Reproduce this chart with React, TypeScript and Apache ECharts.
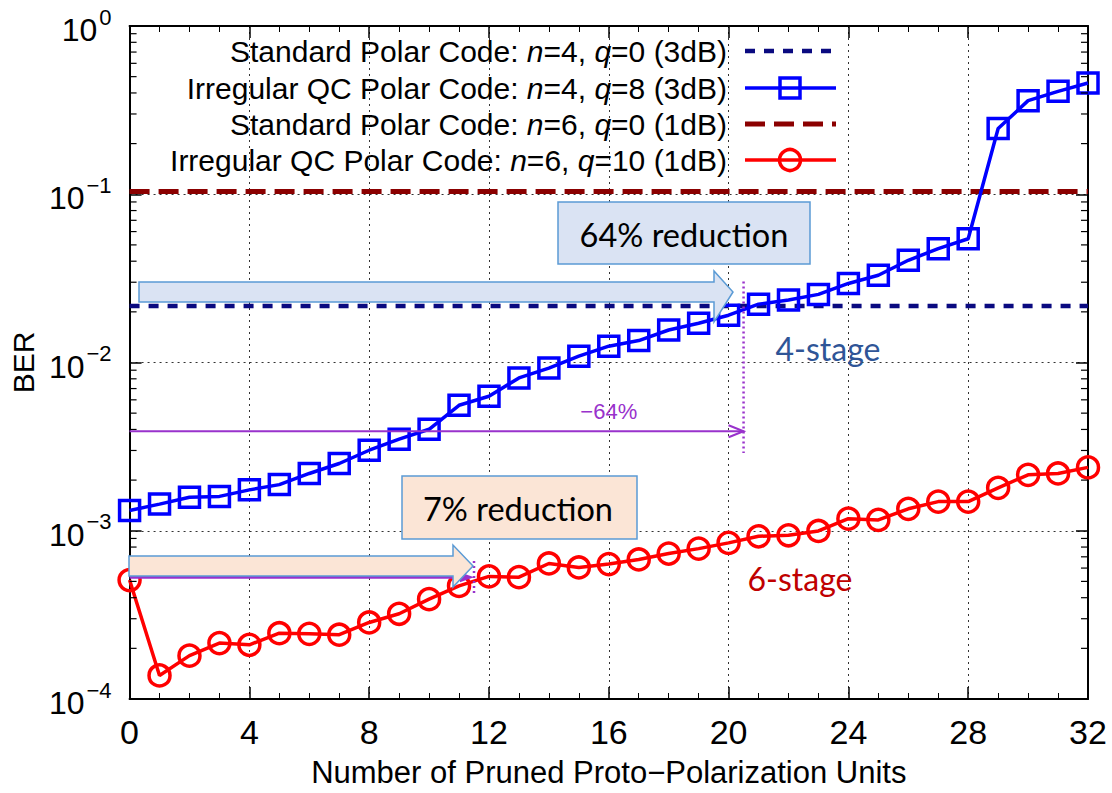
import React, { useEffect, useRef } from "react";
import * as echarts from "echarts";

// ---------------- data ----------------
const prunedUnits = [0, 1, 2, 3, 4, 5, 6, 7, 8, 9, 10, 11, 12, 13, 14, 15, 16, 17, 18, 19, 20, 21, 22, 23, 24, 25, 26, 27, 28, 29, 30, 31, 32];

const irregularN4Q8 = [
  1.32e-3, 1.44e-3, 1.58e-3, 1.6e-3, 1.75e-3, 1.88e-3, 2.19e-3, 2.51e-3, 3.01e-3, 3.5e-3, 4.01e-3,
  5.57e-3, 6.3e-3, 8.1e-3, 9.27e-3, 1.09e-2, 1.25e-2, 1.35e-2, 1.56e-2, 1.71e-2, 1.91e-2,
  2.22e-2, 2.35e-2, 2.54e-2, 2.95e-2, 3.3e-2, 4.05e-2, 4.75e-2, 5.44e-2, 0.246, 0.36, 0.409, 0.458,
];

const irregularN6Q10 = [
  5.09e-4, 1.38e-4, 1.81e-4, 2.15e-4, 2.1e-4, 2.46e-4, 2.44e-4, 2.41e-4, 2.85e-4, 3.21e-4, 3.92e-4,
  4.7e-4, 5.35e-4, 5.3e-4, 6.39e-4, 6.05e-4, 6.34e-4, 6.75e-4, 7.32e-4, 7.83e-4, 8.47e-4,
  9.27e-4, 9.4e-4, 9.97e-4, 1.18e-3, 1.16e-3, 1.35e-3, 1.49e-3, 1.49e-3, 1.8e-3, 2.15e-3, 2.19e-3, 2.38e-3,
];

const standardN4 = 0.0217; // n=4, q=0 (3dB)
const standardN6 = 0.104; // n=6, q=0 (1dB)
const xRange = [0, 32];

const seriesNames = [
  "Standard Polar Code: n=4, q=0 (3dB)",
  "Irregular QC Polar Code: n=4, q=8 (3dB)",
  "Standard Polar Code: n=6, q=0 (1dB)",
  "Irregular QC Polar Code: n=6, q=10 (1dB)",
];
const legendRich = [
  "Standard Polar Code: {i|n}=4, {i|q}=0 (3dB)",
  "Irregular QC Polar Code: {i|n}=4, {i|q}=8 (3dB)",
  "Standard Polar Code: {i|n}=6, {i|q}=0 (1dB)",
  "Irregular QC Polar Code: {i|n}=6, {i|q}=10 (1dB)",
];

// annotation anchors (data coordinates)
const arrow64 = [20.5, 0.0039];
const guide64 = [20.5, 0.0303, 0.0029];
const label64 = [16, 0.0051];
const arrow7 = [11.5, 0.00053];
const guide7 = [11.5, 0.00066, 0.00042];
const label7 = [9.3, 0.00064];

const minorMultipliers = [2, 3, 4, 5, 6, 7, 8, 9];
const decades = [1e-4, 1e-3, 1e-2, 1e-1];

// ---------------- styles ----------------
const SANS = "'Liberation Sans', Arial, Helvetica, sans-serif";
const CAL = "Lato, 'Open Sans', sans-serif";
const purple = "#9932cc";
const boxStroke = "#5b9bd5";
const legendY = [51, 88, 124, 160];

export default function App() {
  const ref = useRef<HTMLDivElement>(null);

  useEffect(() => {
    document.body.style.margin = "0";
    if (!ref.current) return;
    const chart = echarts.init(ref.current, null, { renderer: "svg" });

    const yMinor: number[][] = [];
    decades.forEach((d) => minorMultipliers.forEach((m) => yMinor.push([0, d * m])));

    const axisLineStyle = { color: "#000", width: 2 };

    const option: any = {
      animation: false,
      backgroundColor: "#fff",
      grid: { left: 125, right: 24, top: 26, bottom: 90, containLabel: false },
      xAxis: [
        {
          type: "value",
          min: xRange[0],
          max: xRange[1],
          interval: 4,
          position: "bottom",
          axisLine: { show: true, onZero: false, lineStyle: axisLineStyle },
          axisTick: { show: true, inside: true, length: 12, lineStyle: { color: "#000", width: 1.5 } },
          minorTick: { show: true, splitNumber: 4, length: 6, lineStyle: { color: "#000", width: 1 } },
          splitLine: { show: true, lineStyle: { type: [2, 4], color: "#333", width: 1 } },
          axisLabel: { fontSize: 34, color: "#000", margin: 16, fontFamily: SANS },
          name: "Number of Pruned Proto\u2212Polarization Units",
          nameLocation: "middle",
          nameGap: 58,
          nameTextStyle: { fontSize: 31, color: "#000", fontFamily: SANS },
        },
        {
          type: "value",
          min: xRange[0],
          max: xRange[1],
          interval: 4,
          position: "top",
          axisLine: { show: true, onZero: false, lineStyle: axisLineStyle },
          axisTick: { show: true, inside: true, length: 12, lineStyle: { color: "#000", width: 1.5 } },
          minorTick: { show: true, splitNumber: 4, length: 6, lineStyle: { color: "#000", width: 1 } },
          splitLine: { show: false },
          axisLabel: { show: false },
        },
      ],
      yAxis: [
        {
          type: "log",
          logBase: 10,
          min: 1e-4,
          max: 1,
          position: "left",
          axisLine: { show: true, onZero: false, lineStyle: axisLineStyle },
          axisTick: { show: true, inside: true, length: 12, lineStyle: { color: "#000", width: 1.5 } },
          splitLine: { show: true, lineStyle: { type: [2, 4], color: "#333", width: 1 } },
          axisLabel: {
            showMinLabel: true,
            showMaxLabel: true,
            margin: 18,
            formatter: (v: number) => {
              const e = Math.round(Math.log10(v));
              const s = e < 0 ? "\u2212" + Math.abs(e) : String(e);
              return "{b|10}{e|" + s + "}";
            },
            rich: {
              b: { fontSize: 32, fontFamily: SANS, color: "#000", lineHeight: 40, verticalAlign: "bottom" },
              e: { fontSize: 22, fontFamily: SANS, color: "#000", lineHeight: 22, verticalAlign: "top", padding: [0, 0, 0, 2] },
            },
          },
          name: "BER",
          nameLocation: "middle",
          nameGap: 90,
          nameRotate: 90,
          nameTextStyle: { fontSize: 30, color: "#000", fontFamily: SANS },
        },
        {
          type: "log",
          logBase: 10,
          min: 1e-4,
          max: 1,
          position: "right",
          axisLine: { show: true, onZero: false, lineStyle: axisLineStyle },
          axisTick: { show: true, inside: true, length: 12, lineStyle: { color: "#000", width: 1.5 } },
          splitLine: { show: false },
          axisLabel: { show: false },
        },
      ],
      series: [
        {
          name: seriesNames[0],
          type: "line",
          data: xRange.map((x) => [x, standardN4]),
          showSymbol: false,
          symbol: "none",
          lineStyle: { color: "#0a0a80", width: 4.5, type: [10, 9] },
          z: 3,
        },
        {
          name: seriesNames[2],
          type: "line",
          data: xRange.map((x) => [x, standardN6]),
          showSymbol: false,
          symbol: "none",
          lineStyle: { color: "#8b0000", width: 5, type: [20, 9] },
          z: 3,
        },
        {
          name: seriesNames[1],
          type: "line",
          data: prunedUnits.map((x, i) => [x, irregularN4Q8[i]]),
          symbol: "rect",
          symbolSize: 20,
          lineStyle: { color: "#0000ff", width: 3.5 },
          itemStyle: { color: "rgba(0,0,0,0)", borderColor: "#0000ff", borderWidth: 3.5 },
          z: 4,
        },
        {
          name: seriesNames[3],
          type: "line",
          data: prunedUnits.map((x, i) => [x, irregularN6Q10[i]]),
          symbol: "circle",
          symbolSize: 21,
          lineStyle: { color: "#ff0000", width: 3.5 },
          itemStyle: { color: "rgba(0,0,0,0)", borderColor: "#ff0000", borderWidth: 3.5 },
          z: 4,
        },
        {
          name: "yMinorTicks",
          type: "custom",
          data: yMinor,
          silent: true,
          z: 5,
          renderItem: (params: any, api: any) => {
            const v = api.value(1);
            const l = api.coord([xRange[0], v]);
            const r = api.coord([xRange[1], v]);
            return {
              type: "group",
              children: [
                { type: "line", shape: { x1: l[0], y1: l[1], x2: l[0] + 7, y2: l[1] }, style: { stroke: "#000", lineWidth: 1.2 } },
                { type: "line", shape: { x1: r[0] - 7, y1: r[1], x2: r[0], y2: r[1] }, style: { stroke: "#000", lineWidth: 1.2 } },
              ],
            };
          },
        },
        {
          name: "reductionMarks",
          type: "custom",
          data: [[0, 0.001]],
          silent: true,
          z: 6,
          renderItem: (params: any, api: any) => {
            const s64 = api.coord([xRange[0], arrow64[1]]);
            const e64 = api.coord([arrow64[0], arrow64[1]]);
            const gt64 = api.coord([guide64[0], guide64[1]]);
            const gb64 = api.coord([guide64[0], guide64[2]]);
            const l64 = api.coord([label64[0], label64[1]]);
            const s7 = api.coord([xRange[0], arrow7[1]]);
            const e7 = api.coord([arrow7[0], arrow7[1]]);
            const gt7 = api.coord([guide7[0], guide7[1]]);
            const gb7 = api.coord([guide7[0], guide7[2]]);
            const l7 = api.coord([label7[0], label7[1]]);
            return {
              type: "group",
              children: [
                { type: "line", shape: { x1: s64[0], y1: s64[1], x2: e64[0], y2: e64[1] }, style: { stroke: purple, lineWidth: 2 } },
                {
                  type: "polyline",
                  shape: { points: [[e64[0] - 15, e64[1] - 6], [e64[0], e64[1]], [e64[0] - 15, e64[1] + 6]] },
                  style: { stroke: purple, fill: "none", lineWidth: 2 },
                },
                { type: "line", shape: { x1: gt64[0], y1: gt64[1], x2: gb64[0], y2: gb64[1] }, style: { stroke: purple, lineWidth: 2.5, lineDash: [2, 3] } },
                {
                  type: "text",
                  x: l64[0],
                  y: l64[1],
                  style: { text: "\u221264%", fill: purple, fontSize: 22, fontFamily: SANS, align: "center", verticalAlign: "middle" },
                },
                { type: "line", shape: { x1: s7[0], y1: s7[1], x2: e7[0] - 10, y2: e7[1] }, style: { stroke: purple, lineWidth: 3 } },
                {
                  type: "polygon",
                  shape: { points: [[e7[0] - 14, e7[1] - 5], [e7[0], e7[1]], [e7[0] - 14, e7[1] + 5]] },
                  style: { fill: purple },
                },
                { type: "line", shape: { x1: gt7[0], y1: gt7[1], x2: gb7[0], y2: gb7[1] }, style: { stroke: purple, lineWidth: 2.5, lineDash: [2, 3] } },
                {
                  type: "text",
                  x: l7[0],
                  y: l7[1],
                  style: { text: "\u22127%", fill: purple, fontSize: 22, fontFamily: SANS, align: "center", verticalAlign: "middle" },
                },
              ],
            };
          },
        },
      ],
      graphic: [
        // block arrows and callouts
        {
          type: "polygon",
          z: 100,
          shape: { points: [[139, 282], [714, 282], [714, 271], [733, 292], [714, 322], [714, 302], [139, 302]] },
          style: { fill: "#dae3f3", stroke: boxStroke, lineWidth: 1.5 },
        },
        {
          type: "rect",
          z: 100,
          shape: { x: 558, y: 202, width: 252, height: 62 },
          style: { fill: "#dae3f3", stroke: boxStroke, lineWidth: 1.5 },
        },
        {
          type: "text",
          z: 101,
          x: 684,
          y: 234,
          style: { text: "64% reduction", fill: "#000", fontSize: 32.5, fontFamily: CAL, align: "center", verticalAlign: "middle" },
        },
        {
          type: "polygon",
          z: 100,
          shape: { points: [[129, 556], [453, 556], [453, 545], [473, 566], [453, 587], [453, 576], [129, 576]] },
          style: { fill: "#fbe5d6", stroke: boxStroke, lineWidth: 1.5 },
        },
        {
          type: "rect",
          z: 100,
          shape: { x: 402, y: 476, width: 235, height: 63 },
          style: { fill: "#fbe5d6", stroke: boxStroke, lineWidth: 1.5 },
        },
        {
          type: "text",
          z: 101,
          x: 518,
          y: 508,
          style: { text: "7% reduction", fill: "#000", fontSize: 32.5, fontFamily: CAL, align: "center", verticalAlign: "middle" },
        },
        {
          type: "text",
          z: 101,
          x: 828,
          y: 348,
          style: { text: "4-stage", fill: "#2f5597", fontSize: 32, fontFamily: CAL, align: "center", verticalAlign: "middle" },
        },
        {
          type: "text",
          z: 101,
          x: 800,
          y: 578,
          style: { text: "6-stage", fill: "#c00000", fontSize: 32, fontFamily: CAL, align: "center", verticalAlign: "middle" },
        },
        // legend
        ...legendRich.map((t, i) => ({
          type: "text",
          z: 101,
          x: 727,
          y: legendY[i],
          style: {
            text: t,
            fill: "#000",
            fontSize: 30,
            fontFamily: SANS,
            align: "right",
            verticalAlign: "middle",
            rich: { i: { fontStyle: "italic", fontSize: 30, fontFamily: SANS, fill: "#000" } },
          },
        })),
        { type: "line", z: 101, shape: { x1: 745, y1: legendY[0], x2: 836, y2: legendY[0] }, style: { stroke: "#0a0a80", lineWidth: 4.5, lineDash: [10, 9] } },
        { type: "line", z: 101, shape: { x1: 745, y1: legendY[1], x2: 836, y2: legendY[1] }, style: { stroke: "#0000ff", lineWidth: 3.5 } },
        { type: "rect", z: 102, shape: { x: 780, y: legendY[1] - 10, width: 20, height: 20 }, style: { fill: "none", stroke: "#0000ff", lineWidth: 3.5 } },
        { type: "line", z: 101, shape: { x1: 745, y1: legendY[2], x2: 836, y2: legendY[2] }, style: { stroke: "#8b0000", lineWidth: 5, lineDash: [20, 9] } },
        { type: "line", z: 101, shape: { x1: 745, y1: legendY[3], x2: 836, y2: legendY[3] }, style: { stroke: "#ff0000", lineWidth: 3.5 } },
        { type: "circle", z: 102, shape: { cx: 790, cy: legendY[3], r: 10.5 }, style: { fill: "none", stroke: "#ff0000", lineWidth: 3.5 } },
      ],
    };

    chart.setOption(option);
    return () => chart.dispose();
  }, []);

  return <div ref={ref} style={{ width: 1112, height: 793 }} />;
}
